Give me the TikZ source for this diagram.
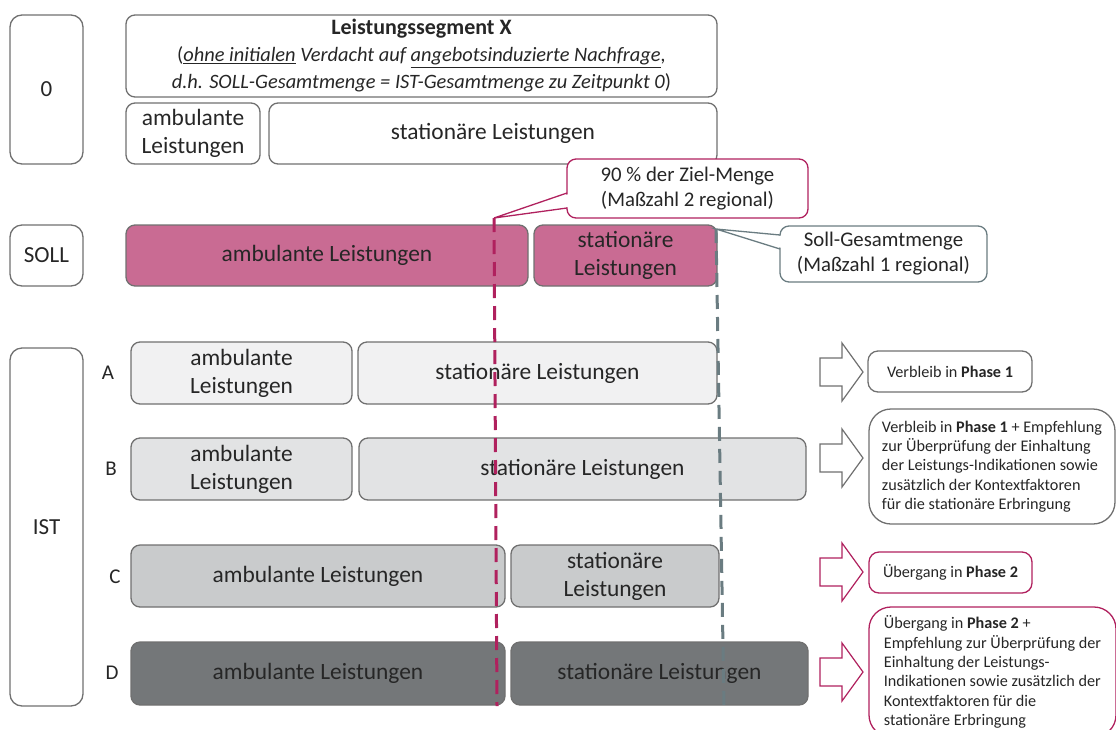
\documentclass[tikz,border=0pt]{standalone}
\usepackage{fontspec}
\setmainfont{Carlito}
\definecolor{txt}{HTML}{262626}
\definecolor{bord}{HTML}{707070}
\definecolor{mag}{HTML}{B0215E}
\definecolor{magfill}{HTML}{C96B93}
\definecolor{slate}{HTML}{6A7C81}
\definecolor{fa}{HTML}{F1F1F2}
\definecolor{fb}{HTML}{E2E3E4}
\definecolor{fc}{HTML}{C9CBCC}
\definecolor{fd}{HTML}{747779}
\tikzset{
  base/.style={draw=bord, line width=1.3pt, rounded corners=9pt, inner sep=0pt, outer sep=0pt,
    align=center, text=txt, font=\fontsize{23.4}{28}\selectfont},
  side/.style={base, rounded corners=12pt, font=\fontsize{23}{26}\selectfont},
  small/.style={base, font=\fontsize{16.2}{19.3}\selectfont, rounded corners=10pt},
  bigsmall/.style={small, align=left, rounded corners=22pt},
  callout/.style={base, fill=white, font=\fontsize{20.8}{25}\selectfont},
  letter/.style={text=txt, font=\fontsize{21}{24}\selectfont, inner sep=0pt},
  blockarrow/.style={line width=1.2pt, fill=white, line join=miter},
  dashline/.style={line width=3pt, dash pattern=on 14pt off 8pt},
}
\newcommand\mybox[7]{\node[base,#6, minimum width={(#4-#2)*1pt}, minimum height={(#5-#3)*1pt}] (#1) at ({(#2+#4)/2},{(#3+#5)/2}) {#7};}
\newcommand\barrow[2]{\draw[blockarrow, draw=#2] (820,{#1-14}) -- (842,{#1-14}) -- (842,{#1-29}) -- (863,#1) -- (842,{#1+29}) -- (842,{#1+14}) -- (820,{#1+14}) -- cycle;}
\begin{document}
\begin{tikzpicture}[x=1pt,y=-1pt]
\useasboundingbox (0,0) rectangle (1116,729);
% left labels
\mybox{z0}{10}{15}{83}{164}{side}{0}
\mybox{soll}{10}{225}{83}{286}{side}{SOLL}
\mybox{ist}{10}{348}{83}{706}{side}{IST}
% header
\mybox{hdr}{126}{15}{717}{97}{}{{\fontsize{22}{26}\selectfont\textbf{Leistungssegment X}}\\[-1pt]
{\fontsize{20.4}{26}\selectfont(\textit{\underline{ohne initialen} Verdacht auf \underline{angebotsinduzierte Nachfrage},}}\\[-1pt]
{\fontsize{20.4}{26}\selectfont\textit{d.h. SOLL-Gesamtmenge = IST-Gesamtmenge zu Zeitpunkt 0})}}
\mybox{r0a}{126}{103}{260}{164}{}{ambulante\\Leistungen}
\mybox{r0s}{269}{103}{717}{164}{}{stationäre Leistungen}
% SOLL
\mybox{sa}{126}{225}{528}{286}{fill=magfill}{ambulante Leistungen}
\mybox{ss}{534}{225}{717}{286}{fill=magfill}{stationäre\\Leistungen}
% IST rows
\node[letter] (la) at (108,373) {A};
\node[letter] (lb) at (111,469) {B};
\node[letter] (lc) at (115,577) {C};
\node[letter] (ld) at (112,673) {D};
\mybox{aa}{131}{342}{352}{404}{fill=fa}{ambulante\\Leistungen}
\mybox{as}{358}{342}{717}{404}{fill=fa}{stationäre Leistungen}
\mybox{ba}{131}{438}{352}{500}{fill=fb}{ambulante\\Leistungen}
\mybox{bs}{359}{438}{806}{500}{fill=fb}{stationäre Leistungen}
\mybox{ca}{131}{545}{505}{607}{fill=fc}{ambulante Leistungen}
\mybox{cs}{511}{545}{719}{607}{fill=fc}{stationäre\\Leistungen}
\mybox{da}{131}{642}{505}{705}{fill=fd, text=black!85}{ambulante Leistungen}
\mybox{ds}{511}{642}{808}{705}{fill=fd, text=black!85}{stationäre Leistungen}
% callouts
\mybox{cm}{567}{159}{808}{218}{callout, draw=mag}{90 \% der Ziel-Menge\\(Maßzahl 2 regional)}
\coordinate (cmtip) at (494,218);
\fill[white] (569,194) -- (cmtip) -- (569,207) -- cycle;
\draw[mag, line width=1.3pt, line join=miter] (567,193) -- (cmtip) -- (567,208);
\mybox{cg}{780}{226}{987}{282}{callout, draw=slate}{Soll-Gesamtmenge\\(Maßzahl 1 regional)}
\coordinate (cgtip) at (716,229);
\fill[white] (782,236) -- (cgtip) -- (782,248) -- cycle;
\draw[slate, line width=1.3pt, line join=miter] (780,235) -- (cgtip) -- (780,249);
% dashed lines
\coordinate (mend) at (497,706);
\coordinate (gend) at (724,707);
\draw[mag, dashline] (cmtip) -- (mend);
\draw[slate, dashline] (cgtip) -- (gend);
% block arrows
\barrow{372}{bord}
\barrow{458}{bord}
\barrow{572}{mag}
\barrow{672}{mag}
% right boxes
\mybox{ra}{868}{351}{1032}{392}{small}{Verbleib in \textbf{Phase 1}}
\mybox{rb}{869}{409}{1115}{524}{bigsmall}{Verbleib in \textbf{Phase 1} + Empfehlung\\zur Überprüfung der Einhaltung\\der Leistungs-Indikationen sowie\\zusätzlich der Kontextfaktoren\\für die stationäre Erbringung}
\mybox{rc}{869}{552}{1032}{593}{small, draw=mag}{Übergang in \textbf{Phase 2}}
\mybox{rd}{869}{607}{1116}{737}{bigsmall, draw=mag}{Übergang in \textbf{Phase 2} +\\Empfehlung zur Überprüfung der\\Einhaltung der Leistungs-\\Indikationen sowie zusätzlich der\\Kontextfaktoren für die\\stationäre Erbringung}
\end{tikzpicture}
\end{document}
